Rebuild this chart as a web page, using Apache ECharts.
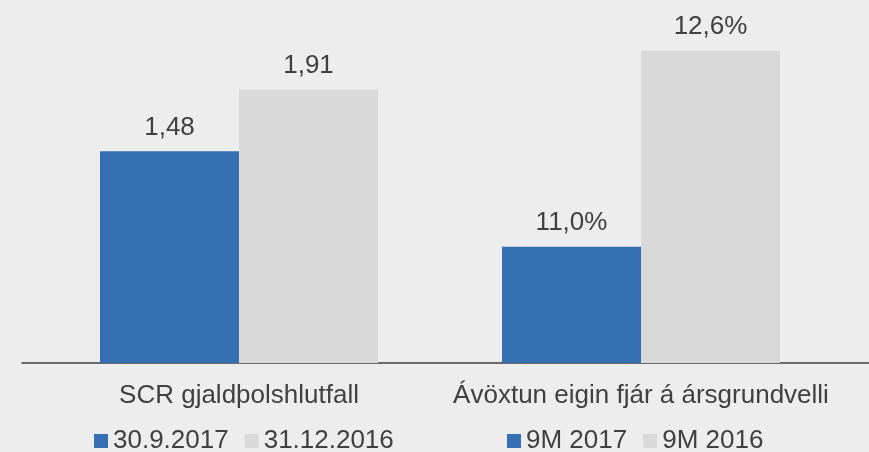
<!DOCTYPE html>
<html>
<head>
<meta charset="utf-8">
<script src="https://cdn.jsdelivr.net/npm/echarts@6/dist/echarts.min.js"></script>
<style>
  html, body { margin: 0; padding: 0; background: #ededed; }
  #chart { width: 869px; height: 452px; }
</style>
</head>
<body>
<div id="chart"></div>
<script>
// left chart: solvency ratio
var cat1 = ['SCR gjaldþolshlutfall'];
var names1 = ['30.9.2017', '31.12.2016'];
var vals1 = [1.48, 1.91];
// right chart: return on equity (%)
var cat2 = ['Ávöxtun eigin fjár á ársgrundvelli'];
var names2 = ['9M 2017', '9M 2016'];
var vals2 = [11.0, 12.6];

var blue = '#3570b3';
var grey = '#d9d9d9';
var txt = '#404040';
var font = 'Liberation Sans, Arial, sans-serif';
var fs = 26;

var chart = echarts.init(document.getElementById('chart'));

function fmt(v, dec, suffix) {
  return v.toFixed(dec).replace('.', ',') + suffix;
}

function bar(name, value, color, idx, dec, suffix) {
  return {
    name: name,
    type: 'bar',
    xAxisIndex: idx,
    yAxisIndex: idx,
    barWidth: 139,
    barGap: '0%',
    data: [value],
    itemStyle: { color: color },
    label: {
      show: true,
      position: 'top',
      distance: 11,
      color: txt,
      fontSize: fs,
      fontFamily: font,
      formatter: function (p) { return fmt(p.value, dec, suffix); }
    }
  };
}

function legend(names, left) {
  return {
    data: names,
    left: left,
    top: 428,
    padding: 0,
    itemWidth: 14,
    itemHeight: 14,
    itemGap: 16,
    icon: 'rect',
    textStyle: { color: txt, fontSize: fs, fontFamily: font }
  };
}

function catAxis(grid, data) {
  return {
    type: 'category',
    gridIndex: grid,
    data: data,
    axisTick: { show: false },
    axisLine: { show: false },
    axisLabel: { color: txt, fontSize: fs, fontFamily: font, margin: 20 }
  };
}

var option = {
  backgroundColor: '#ededed',
  animation: false,
  textStyle: { fontFamily: font },
  legend: [legend(names1, 94), legend(names2, 507)],
  grid: [
    { left: 22, width: 434, top: 77, bottom: 89 },
    { left: 413, width: 456, top: 14, bottom: 89 },
    // baseline spanning both charts
    { left: 22, right: 0, top: 14, bottom: 89 }
  ],
  xAxis: [
    catAxis(0, cat1),
    catAxis(1, cat2),
    {
      type: 'category',
      gridIndex: 2,
      data: [''],
      axisTick: { show: false },
      axisLabel: { show: false },
      axisLine: { lineStyle: { color: '#3f3f3f', width: 1.5 } }
    }
  ],
  yAxis: [
    { type: 'value', gridIndex: 0, min: 0, max: 2, show: false },
    { type: 'value', gridIndex: 1, min: 10.05, max: 12.9, show: false },
    { type: 'value', gridIndex: 2, show: false }
  ],
  series: [
    bar(names1[0], vals1[0], blue, 0, 2, ''),
    bar(names1[1], vals1[1], grey, 0, 2, ''),
    bar(names2[0], vals2[0], blue, 1, 1, '%'),
    bar(names2[1], vals2[1], grey, 1, 1, '%')
  ]
};

chart.setOption(option);
</script>
</body>
</html>
